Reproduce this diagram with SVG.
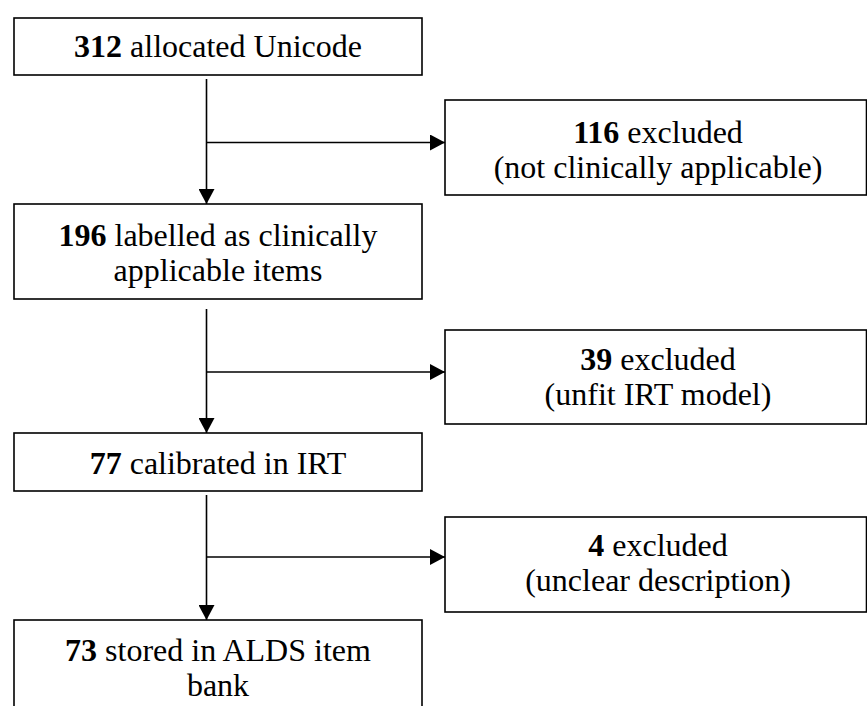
<svg xmlns="http://www.w3.org/2000/svg" width="867" height="706" viewBox="0 0 867 706">
<style>
.box{fill:#fff;stroke:#000;stroke-width:1.6}
.t{font-family:"Liberation Serif","Times New Roman",serif;font-size:32px;fill:#000;text-anchor:middle}
.b{font-weight:bold}
.c{stroke:#000;stroke-width:1.6;fill:none}
</style>
<defs>
<marker id="ah" markerWidth="16" markerHeight="16" refX="15" refY="8" orient="auto" markerUnits="userSpaceOnUse">
<path d="M0,0 L15,8 L0,16 Z" fill="#000"/>
</marker>
</defs>
<rect width="867" height="706" fill="#fff"/>
<g id="connectors">
<line class="c" x1="206.5" y1="79" x2="206.5" y2="204" marker-end="url(#ah)"/>
<line class="c" x1="206.5" y1="142.5" x2="445" y2="142.5" marker-end="url(#ah)"/>
<line class="c" x1="206.5" y1="309" x2="206.5" y2="433" marker-end="url(#ah)"/>
<line class="c" x1="206.5" y1="372" x2="445" y2="372" marker-end="url(#ah)"/>
<line class="c" x1="206.5" y1="495" x2="206.5" y2="620" marker-end="url(#ah)"/>
<line class="c" x1="206.5" y1="557" x2="445" y2="557" marker-end="url(#ah)"/>
</g>
<g id="n312">
<rect class="box" x="14" y="18" width="408" height="57"/>
<text class="t" x="218" y="57"><tspan class="b">312</tspan> allocated Unicode</text>
</g>
<g id="n116">
<rect class="box" x="445" y="100" width="421.5" height="95"/>
<text class="t" x="658" y="143"><tspan class="b">116</tspan> excluded</text>
<text class="t" x="658" y="178">(not clinically applicable)</text>
</g>
<g id="n196">
<rect class="box" x="14" y="204" width="408" height="95"/>
<text class="t" x="218" y="246"><tspan class="b">196</tspan> labelled as clinically</text>
<text class="t" x="218" y="281">applicable items</text>
</g>
<g id="n39">
<rect class="box" x="445" y="330" width="421.5" height="94"/>
<text class="t" x="658" y="370"><tspan class="b">39</tspan> excluded</text>
<text class="t" x="658" y="405">(unfit IRT model)</text>
</g>
<g id="n77">
<rect class="box" x="14" y="433" width="408" height="58"/>
<text class="t" x="218" y="474"><tspan class="b">77</tspan> calibrated in IRT</text>
</g>
<g id="n4">
<rect class="box" x="445" y="517" width="421.5" height="95"/>
<text class="t" x="658" y="556"><tspan class="b">4</tspan> excluded</text>
<text class="t" x="658" y="591">(unclear description)</text>
</g>
<g id="n73">
<rect class="box" x="14" y="620" width="408" height="100"/>
<text class="t" x="218" y="661"><tspan class="b">73</tspan> stored in ALDS item</text>
<text class="t" x="218" y="696">bank</text>
</g>
</svg>
